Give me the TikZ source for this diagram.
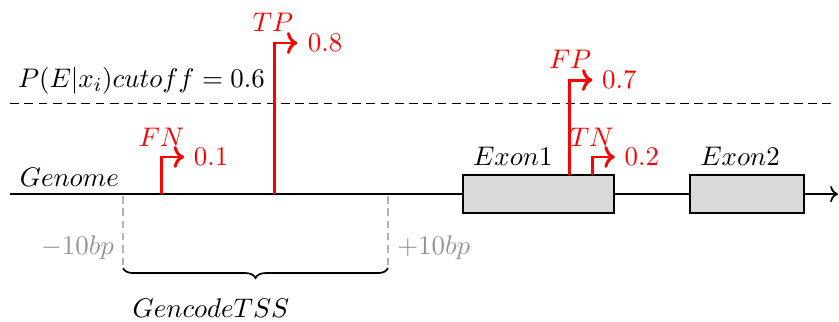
\documentclass[tikz,border=0pt]{standalone}
\usepackage{tikz}
\usetikzlibrary{positioning, decorations.pathreplacing, arrows.meta}
\tikzset{
	blacktext/.style={font=\fontsize{10.95}{13.6}\selectfont}
}
\tikzset{
	graytext/.style={blacktext, text=gray!85}
}
\tikzset{
	redtext/.style={blacktext, text=red}
}
\tikzset{
	exonbox/.style={draw, fill=gray!30, minimum height=0.54cm, inner sep=0pt}
}
\tikzset{
	hitarrow/.style={draw=red, line width=1.2pt, ->}
}
\begin{document}
\begin{tikzpicture}[line width=0.7pt]
      \useasboundingbox (-0.143,-1.816) rectangle (11.856,2.775);
      % genome line with exons
      \coordinate (gstart) at (0,0);
      \coordinate (gend) at (11.84,0);
      \draw[->] (gstart) -- (gend);
      \node[exonbox, minimum width=2.16cm] (exon1) at (7.56,0) {};
      \node[exonbox, minimum width=1.63cm] (exon2) at (10.545,0) {};
      \node[blacktext] (genome) at (0.85,0.24) {$Genome$};
      \node[blacktext] (exon1lbl) at (7.19,0.536) {$Exon1$};
      \node[blacktext] (exon2lbl) at (10.44,0.536) {$Exon2$};
      % cutoff
      \coordinate (cutleft) at (0,1.3);
      \coordinate (cutright) at (11.8,1.3);
      \draw[dash pattern=on 3.6pt off 2.2pt, line width=0.5pt] (cutleft) -- (cutright);
      \node[blacktext] (cutoff) at (1.88,1.62) {$P(E|x_i) cutoff = 0.6$};
      % FN
      \coordinate (fnbase) at (2.16,0);
      \coordinate (fntip) at (2.49,0.53);
      \draw[hitarrow] (fnbase) |- (fntip);
      \node[redtext] (fnlbl) at (2.17,0.815) {$FN$};
      \node[redtext, right=0.1mm of fntip] (fnval) {$0.1$};
      % TP
      \coordinate (tpbase) at (3.776,0);
      \coordinate (tptip) at (4.11,2.16);
      \draw[hitarrow] (tpbase) |- (tptip);
      \node[redtext] (tplbl) at (3.76,2.46) {$TP$};
      \node[redtext, right=0.2mm of tptip] (tpval) {$0.8$};
      % FP
      \coordinate (fpbase) at (7.995,0.27);
      \coordinate (fptip) at (8.33,1.63);
      \draw[hitarrow] (fpbase) |- (fptip);
      \node[redtext] (fplbl) at (8.01,1.92) {$FP$};
      \node[redtext, right=0.1mm of fptip] (fpval) {$0.7$};
      % TN
      \coordinate (tnbase) at (8.324,0.27);
      \coordinate (tntip) at (8.65,0.53);
      \draw[hitarrow] (tnbase) |- (tntip);
      \node[redtext] (tnlbl) at (8.32,0.815) {$TN$};
      \node[redtext, right=0.1mm of tntip] (tnval) {$0.2$};
      % TSS window
      \coordinate (winlefttop) at (1.616,-0.03);
      \coordinate (winleft) at (1.616,-1.06);
      \coordinate (winrighttop) at (5.406,-0.03);
      \coordinate (winright) at (5.406,-1.06);
      \draw[gray!60, line width=0.5pt, dash pattern=on 3pt off 2pt] (winlefttop) -- (winleft);
      \draw[gray!60, line width=0.5pt, dash pattern=on 3pt off 2pt] (winrighttop) -- (winright);
      \draw[decorate, decoration={brace, mirror, amplitude=4pt}] (winleft) -- (winright);
      \node[graytext] (minus) at (0.965,-0.77) {$-10bp$};
      \node[graytext] (plus) at (6.06,-0.77) {$+10bp$};
      \node[blacktext] (tss) at (2.875,-1.63) {$GencodeTSS$};
    \end{tikzpicture}
\end{document}
